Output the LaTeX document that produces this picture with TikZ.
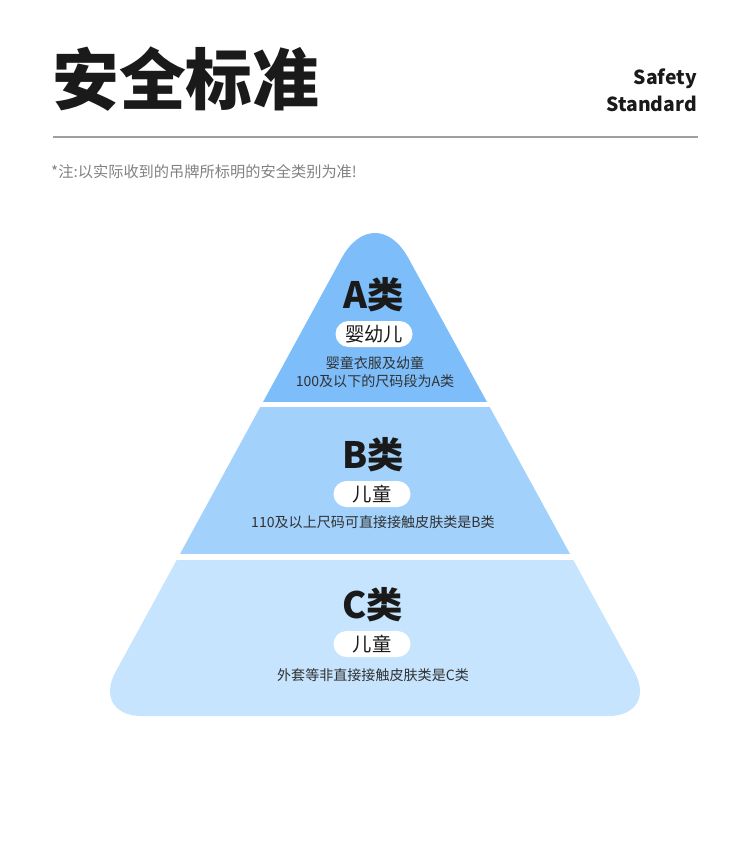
\documentclass[tikz,border=0pt]{standalone}
\usepackage{fontspec}
\setmainfont{Noto Sans CJK SC}
\definecolor{tierA}{RGB}{125, 190, 250}
\definecolor{tierB}{RGB}{162, 209, 251}
\definecolor{tierC}{RGB}{198, 228, 253}
\definecolor{inkdark}{RGB}{26, 26, 26}
\definecolor{notegray}{RGB}{130, 130, 130}
\usetikzlibrary{positioning, calc}

\begin{document}
\begin{tikzpicture}[
  x=0.03cm, y=-0.03cm,
  grade/.style={font=\fontsize{31pt}{31pt}\selectfont\bfseries, text=inkdark, inner sep=0pt},
  pill/.style={fill=white, rounded corners=0.39cm, minimum width=2.31cm, minimum height=0.78cm,
    inner sep=0pt, font=\fontsize{16.5pt}{16.5pt}\selectfont, text=inkdark},
  desc/.style={font=\fontsize{12pt}{16pt}\selectfont, text=inkdark!90, align=center, inner sep=0pt}
]
  \useasboundingbox[fill=white] (0,0) rectangle (750,843);

  % header
  \node[anchor=west, inner sep=0pt, font=\fontsize{57pt}{57pt}\selectfont\bfseries, text=inkdark] (title) at (52,79) {安全标准};
  \node[anchor=east, inner sep=0pt, align=right, font=\fontsize{16.5pt}{23pt}\selectfont\bfseries, text=inkdark] (sub) at (697,90) {Safety\\Standard};
  \coordinate (rulel) at (53,137);
  \coordinate (ruler) at (698,137);
  \draw[gray!75, line width=1.4pt] (rulel) -- (ruler);
  \node[anchor=west, inner sep=0pt, font=\fontsize{13pt}{13pt}\selectfont, text=notegray] (note) at (51,172) {*注:以实际收到的吊牌所标明的安全类别为准!};

  % pyramid
  \begin{scope}
    \clip (375,716) [rounded corners=1.5cm] -- (91.5,716) [rounded corners=2.1cm] -- (375,197)
      [rounded corners=1.5cm] -- (658.5,716) [rounded corners=0pt] -- cycle;
    \fill[tierA] (0,150) rectangle (750,402);
    \fill[tierB] (0,407) rectangle (750,554);
    \fill[tierC] (0,560) rectangle (750,760);
  \end{scope}

  % tier A
  \node[grade] (gA) at (374,295) {A类};
  \node[pill] (pA) at (374,334) {婴幼儿};
  \node[desc] (dA) at (375,372) {婴童衣服及幼童\\100及以下的尺码段为A类};

  % tier B
  \node[grade] (gB) at (373,455) {B类};
  \node[pill] (pB) at (372,494) {儿童};
  \node[desc] (dB) at (373,522) {110及以上尺码可直接接触皮肤类是B类};

  % tier C
  \node[grade] (gC) at (373,605) {C类};
  \node[pill] (pC) at (372,644) {儿童};
  \node[desc] (dC) at (373,675) {外套等非直接接触皮肤类是C类};
\end{tikzpicture}
\end{document}
